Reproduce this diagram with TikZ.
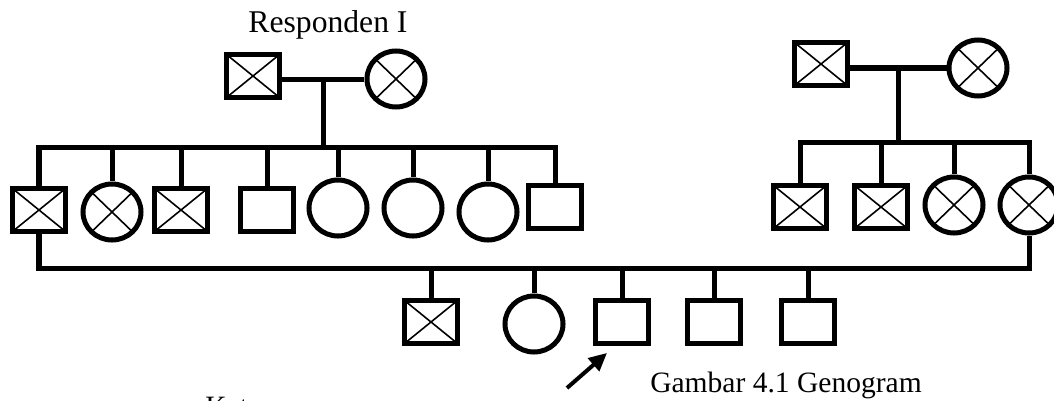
\documentclass[tikz,border=0pt]{standalone}
\usepackage{fontspec}
\setmainfont{Liberation Serif}
\usetikzlibrary{calc,shapes.geometric,arrows.meta}
\tikzset{
  gen-line/.style={
    line width=0.125cm,
    line join=miter
  },
  person/.style={
    draw=black,
    line width=0.125cm,
    inner sep=0pt
  },
  person-male/.style={person, rectangle, minimum width=1.325cm, minimum height=1.075cm},
  person-female/.style={person, ellipse, minimum width=1.45cm, minimum height=1.4cm},
  person-dead/.style={
    path picture={
      \draw[line width=0.04cm]
        (path picture bounding box.north west) -- (path picture bounding box.south east)
        (path picture bounding box.south west) -- (path picture bounding box.north east);
    }
  },
  caption/.style={font=\fontsize{21}{25}\selectfont, inner sep=0pt},
  title/.style={font=\fontsize{22.5}{27}\selectfont, inner sep=0pt},
  pointer/.style={line width=0.1cm, -{Triangle[length=0.45cm, width=0.42cm]}}
}

\begin{document}
\begin{tikzpicture}[x=0.025cm, y=-0.025cm]
  \useasboundingbox (0,0) rectangle (1054,401);

  % --- Respondent's parents ---
  \node[title, anchor=base] (resp) at (328,32) {Responden I};
  \node[person-male, person-dead] (gfL) at (253,76) {};
  \node[person-female, person-dead] (gmL) at (396,79) {};

  % --- Their children (row 2, left) ---
  \node[person-male, person-dead]   (cL1) at (39,210) {};
  \node[person-female, person-dead] (cL2) at (112,212) {};
  \node[person-male, person-dead]   (cL3) at (181,210) {};
  \node[person-male]                (cL4) at (267,210) {};
  \node[person-female]              (cL5) at (338,208) {};
  \node[person-female]              (cL6) at (413,208) {};
  \node[person-female]              (cL7) at (488,212) {};
  \node[person-male]                (cL8) at (555,207) {};

  % --- Spouse's parents ---
  \node[person-male, person-dead] (gfR) at (821,64) {};
  \node[person-female, person-dead] (gmR) at (978,68) {};

  % --- Their children (row 2, right) ---
  \node[person-male, person-dead]   (cR1) at (800,207) {};
  \node[person-male, person-dead]   (cR2) at (881,207) {};
  \node[person-female, person-dead] (cR3) at (954,205) {};
  \node[person-female, person-dead] (cR4) at (1029,205) {};

  % --- Grandchildren (row 3) ---
  \node[person-male, person-dead] (g1) at (431,322) {};
  \node[person-female]            (g2) at (534,324) {};
  \node[person-male]              (g3) at (622,322) {};
  \node[person-male]              (g4) at (714,322) {};
  \node[person-male]              (g5) at (808,322) {};

  % Marriage + sibling lines, left family
  \coordinate (tieL) at ($(gfL.east |- gmL.west)!0.5!(gmL.west)$);
  \coordinate (sibY) at (0,147);
  \coordinate (sibL) at (tieL |- sibY);
  \draw[gen-line] (gfL.east |- gmL.west) -- (gmL.west);
  \draw[gen-line] (tieL) -- (sibL);
  \draw[gen-line] (cL1.north) |- (sibL) -| (cL8.north);
  \foreach \c in {cL2,cL3,cL4,cL5,cL6,cL7}
    \draw[gen-line] (\c.north) -- (\c.north |- sibL);

  % Marriage + sibling lines, right family
  \coordinate (tieR) at ($(gfR.east |- gmR.west)!0.5!(gmR.west)$);
  \coordinate (sibYR) at (0,142);
  \coordinate (sibR) at (tieR |- sibYR);
  \draw[gen-line] (gfR.east |- gmR.west) -- (gmR.west);
  \draw[gen-line] (tieR) -- (sibR);
  \draw[gen-line] (cR1.north) |- (sibR) -| (cR4.north);
  \foreach \c in {cR2,cR3}
    \draw[gen-line] (\c.north) -- (\c.north |- sibR);

  % Couple line and their children
  \coordinate (wedY) at (0,268);
  \draw[gen-line] (cL1.south) |- (wedY -| cR4.south) -- (cR4.south);
  \foreach \i in {1,...,5}
    \draw[gen-line] (g\i.north) -- (g\i.north |- wedY);

  % Pointer to the index person
  \coordinate (pointer-tail) at (567,388);
  \draw[pointer] (pointer-tail) -- ([shift={(14,7)}]g3.south west);

  \node[caption, anchor=base west] (fig) at (650,392) {Gambar 4.1 Genogram};
  \node[caption, anchor=base west] (key) at (205,416) {Keterangan};
\end{tikzpicture}
\end{document}
